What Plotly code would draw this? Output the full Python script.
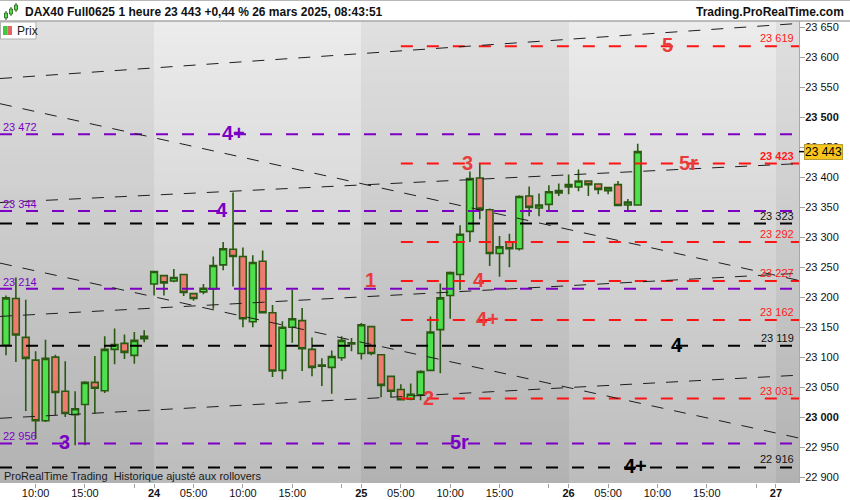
import plotly.graph_objects as go

# DAX40 Full0625, bougies 1 heure, ven 21 -> mer 26 mars 2025
opens = [23120, 23198, 23133, 23095, 22994, 23100, 23043, 23004, 23021, 23058,
         23044, 23113, 23123, 23103, 23131,
         23222, 23236, 23227, 23238, 23206, 23209, 23214, 23254, 23280, 23268,
         23159, 23260, 23174, 23078, 23150, 23161, 23113, 23085, 23083, 23099, 23122,
         23106, 23151, 23104, 23068, 23046, 23030, 23037, 23078, 23146, 23203,
         23238, 23310, 23399, 23346, 23273, 23292, 23281, 23369, 23349, 23355, 23374,
         23384, 23384, 23394, 23389, 23378, 23388, 23354, 23354]
highs = [23203, 23233, 23196, 23110, 23129, 23104, 23093, 23043, 23060, 23102,
         23135, 23148, 23138, 23142, 23145,
         23244, 23237, 23247, 23239, 23207, 23222, 23268, 23292, 23375, 23283,
         23270, 23278, 23187, 23160, 23212, 23182, 23133, 23098, 23111, 23135, 23132,
         23157, 23152, 23105, 23069, 23055, 23056, 23078, 23168, 23223, 23243,
         23320, 23410, 23423, 23348, 23302, 23306, 23370, 23385, 23373, 23387, 23390,
         23405, 23413, 23395, 23390, 23383, 23394, 23364, 23456]
lows = [23103, 23092, 23010, 22964, 22992, 23003, 23000, 22953, 22953, 23006,
        23040, 23088, 23097, 23089, 23125,
        23203, 23203, 23225, 23202, 23194, 23205, 23181, 23245, 23218, 23150,
        23150, 23173, 23067, 23063, 23124, 23077, 23068, 23052, 23039, 23094, 23110,
        23096, 23103, 23033, 23033, 23028, 23028, 23028, 23077, 23073, 23164,
        23212, 23292, 23330, 23252, 23234, 23250, 23278, 23335, 23335, 23345, 23369,
        23372, 23377, 23369, 23372, 23372, 23352, 23345, 23353]
closes = [23199, 23137, 23098, 22994, 23098, 23041, 23006, 23014, 23058, 23048,
          23113, 23121, 23108, 23128, 23135,
          23243, 23224, 23233, 23208, 23198, 23215, 23253, 23281, 23268, 23164,
          23258, 23174, 23077, 23150, 23164, 23114, 23083, 23087, 23101, 23128, 23124,
          23154, 23106, 23053, 23043, 23029, 23038, 23076, 23142, 23199, 23241,
          23305, 23398, 23347, 23273, 23284, 23281, 23368, 23350, 23354, 23376, 23378,
          23388, 23394, 23388, 23380, 23383, 23353, 23359, 23443]
last_price = 23443

tick_pos = [3, 8, 13, 15, 19, 24, 29, 34, 36, 40, 45, 50, 55, 57, 61, 66, 71, 76, 78]
tick_txt = ['10:00', '15:00', '', '<b>24</b>', '05:00', '10:00', '15:00', '', '<b>25</b>',
            '05:00', '10:00', '15:00', '', '<b>26</b>', '05:00', '10:00', '15:00', '', '<b>27</b>']
day_starts = [15, 36, 57, 78]   # first bar of each session

purple_levels = [23472, 23344, 23214, 22956]
black_levels = [23323, 23119, 22916]
red_levels = [23619, 23423, 23292, 23227, 23162, 23031]
red_from = 40

# trend lines: price at left edge / right edge
trend_left = [23565, 23523, 23358, 23257, 23168, 22998]
trend_right = [23657, 23228, 23423, 22965, 23240, 23070]

# big tags on the levels: text, level, bar, colour
tags = [('5', 23619, 67, 'red'), ('4+', 23472, 23, 'purple'), ('3', 23423, 46.8, 'red'),
        ('5r', 23423, 69.1, 'red'), ('4', 23344, 21.9, 'purple'), ('1', 23227, 36.9, 'red'),
        ('4', 23227, 47.9, 'red'), ('4+', 23162, 48.8, 'red'), ('4', 23119, 68, 'black'),
        ('2', 23031, 42.8, 'red'), ('3', 22956, 5.9, 'purple'), ('5r', 22956, 45.9, 'purple'),
        ('4+', 22916, 63.8, 'black')]

X_MIN, X_MAX = -0.61, 80.34
Y_MIN, Y_MAX = 22890, 23661
FONT = 'Arial, Liberation Sans, sans-serif'
LINE_COL = {'red': '#ff1414', 'purple': '#7c00c4', 'black': '#000000'}
TAG_COL = {'red': '#e83c3c', 'purple': '#7a00c4', 'black': '#000000'}


def fmt(v):
    return f"{v:,}".replace(",", " ")


def px(x):
    return x / 799


def py(y):
    return (483 - y) / 462


fig = go.Figure()

# session background bands: alternating greys, lighter at the top (heatmap sits under everything)
edges = [X_MIN] + day_starts + [X_MAX]
nrows = 80
y_edges = [Y_MIN + (Y_MAX - Y_MIN) * r / nrows for r in range(nrows + 1)]
z = [[(r + 0.5) / nrows + (2 if k % 2 == 1 else 0) for k in range(len(edges) - 1)]
     for r in range(nrows)]
fig.add_trace(go.Heatmap(x=edges, y=y_edges, z=z, zmin=0, zmax=3, showscale=False,
                         hoverinfo='skip',
                         colorscale=[[0, '#b2b2b2'], [1 / 3, '#e0e0e0'],
                                     [2 / 3, '#bcbcbc'], [1, '#ececec']]))

fig.add_trace(go.Candlestick(
    x=list(range(len(opens))), open=opens, high=highs, low=lows, close=closes,
    increasing=dict(fillcolor='#4fe04f', line=dict(color='#2a5a12', width=1.6)),
    decreasing=dict(fillcolor='#ef7a72', line=dict(color='#2a5a12', width=1.6)),
    whiskerwidth=0, hoverinfo='skip'))

for v in purple_levels:
    fig.add_trace(go.Scatter(x=[X_MIN, X_MAX], y=[v, v], mode='lines', hoverinfo='skip',
                             line=dict(color=LINE_COL['purple'], width=2, dash='12px,14px')))
for v in black_levels:
    fig.add_trace(go.Scatter(x=[X_MIN, X_MAX], y=[v, v], mode='lines', hoverinfo='skip',
                             line=dict(color=LINE_COL['black'], width=2, dash='12px,14px')))
for v in red_levels:
    fig.add_trace(go.Scatter(x=[red_from, X_MAX], y=[v, v], mode='lines', hoverinfo='skip',
                             line=dict(color=LINE_COL['red'], width=2, dash='12px,14px')))

for a, b in zip(trend_left, trend_right):
    fig.add_trace(go.Scatter(x=[X_MIN, X_MAX], y=[a, b], mode='lines', hoverinfo='skip',
                             line=dict(color='#1e1e1e', width=1, dash='12px,11px')))

ann = []
for v in purple_levels:
    ann.append(dict(x=px(1), xref='paper', y=v, yref='y', text=fmt(v), showarrow=False,
                    xanchor='left', yanchor='middle', yshift=7,
                    font=dict(family=FONT, size=11, color=LINE_COL['purple'])))
for v in black_levels:
    ann.append(dict(x=px(796), xref='paper', y=v, yref='y', text=fmt(v), showarrow=False,
                    xanchor='right', yanchor='middle', yshift=8,
                    font=dict(family=FONT, size=11, color='#111111')))
for v in red_levels:
    txt = '<b>' + fmt(v) + '</b>' if v == 23423 else fmt(v)
    ann.append(dict(x=px(796), xref='paper', y=v, yref='y', text=txt, showarrow=False,
                    xanchor='right', yanchor='middle', yshift=8,
                    font=dict(family=FONT, size=11, color='#ff1a1a')))
for t, v, i, c in tags:
    ann.append(dict(x=i, xref='x', y=v, yref='y', text='<b>' + t + '</b>', showarrow=False,
                    xanchor='center', yanchor='middle', yshift=1,
                    font=dict(family=FONT, size=20, color=TAG_COL[c])))

# current price box
ann.append(dict(x=1, xref='paper', xshift=5, y=last_price, yref='y', text=fmt(last_price),
                showarrow=False, xanchor='left', yanchor='middle', bgcolor='#f7c51e',
                bordercolor='#b89a30', borderwidth=1, borderpad=0,
                font=dict(family=FONT, size=12, color='#000000')))

# header + footer texts
ann.append(dict(x=px(23), y=py(12), xref='paper', yref='paper', showarrow=False,
                xanchor='left', yanchor='middle',
                text='<b>DAX40 Full0625 1 heure 23 443 +0,44 % 26 mars 2025, 08:43:51</b>',
                font=dict(family=FONT, size=12, color='#111111')))
ann.append(dict(x=px(846), y=py(12), xref='paper', yref='paper', showarrow=False,
                xanchor='right', yanchor='middle', text='<b>Trading.ProRealTime.com</b>',
                font=dict(family=FONT, size=12, color='#111111')))
ann.append(dict(x=px(2), y=py(476), xref='paper', yref='paper', showarrow=False,
                xanchor='left', yanchor='middle',
                text='ProRealTime Trading\u00a0 Historique ajusté aux rollovers',
                font=dict(family=FONT, size=11, color='#1a1a1a')))
ann.append(dict(x=px(15), y=py(31), xref='paper', yref='paper', showarrow=False,
                xanchor='left', yanchor='middle', text='Prix',
                font=dict(family=FONT, size=12, color='#1a1a1a')))

shapes = [
    dict(type='line', xref='paper', yref='paper', x0=0, x1=px(850), y0=py(21), y1=py(21),
         line=dict(color='#a8a8a8', width=1.5)),
    dict(type='line', xref='paper', yref='paper', x0=0, x1=px(850), y0=py(0.5), y1=py(0.5),
         line=dict(color='#b8b8b8', width=1)),
    # "Prix" legend box
    dict(type='rect', xref='paper', yref='paper', x0=px(0.5), x1=px(36), y0=py(39), y1=py(22),
         fillcolor='white', line=dict(color='#b0b0b0', width=1)),
    dict(type='rect', xref='paper', yref='paper', x0=px(3), x1=px(7.5), y0=py(35), y1=py(26),
         fillcolor='#44c844', line=dict(width=0)),
    dict(type='rect', xref='paper', yref='paper', x0=px(7.5), x1=px(12), y0=py(35), y1=py(26),
         fillcolor='#e06464', line=dict(width=0)),
    # last price tick on the axis
    dict(type='line', xref='paper', yref='y', x0=1, x1=px(805), y0=last_price, y1=last_price,
         line=dict(color='#000000', width=1.5)),
]
# little candle icon in the header
for cx, b0, b1, w0, w1 in [(6, 13, 18, 11, 20), (11, 9, 14, 7, 16), (16, 5, 10, 3, 12)]:
    shapes.append(dict(type='line', xref='paper', yref='paper', x0=px(cx), x1=px(cx),
                       y0=py(w1), y1=py(w0), line=dict(color='#2a5a12', width=1)))
    shapes.append(dict(type='rect', xref='paper', yref='paper', x0=px(cx - 1.5), x1=px(cx + 1.5),
                       y0=py(b1), y1=py(b0), fillcolor='#4fe04f',
                       line=dict(color='#2a5a12', width=0.8)))

yvals = list(range(22900, 23651, 50))
ytext = ['<b>' + fmt(v) + '</b>' if v in (23000, 23500) else fmt(v) for v in yvals]

fig.update_layout(
    width=850, height=500,
    margin=dict(l=0, r=51, t=21, b=17),
    paper_bgcolor='white', plot_bgcolor='#d0d0d0',
    showlegend=False, boxgap=0.32, boxgroupgap=0,
    font=dict(family=FONT, size=11, color='#111111'),
    annotations=ann, shapes=shapes,
    xaxis=dict(range=[X_MIN, X_MAX], tickvals=tick_pos, ticktext=tick_txt,
               showgrid=False, zeroline=False, ticks='outside', ticklen=4,
               tickcolor='#a0a0a0', rangeslider=dict(visible=False),
               ticklabelstandoff=-4,
               tickfont=dict(family=FONT, size=11, color='#111111')),
    yaxis=dict(range=[Y_MIN, Y_MAX], side='right', tickvals=yvals, ticktext=ytext,
               showgrid=False, zeroline=False, ticks='outside', ticklen=5,
               tickcolor='#a0a0a0', showline=True, linecolor='#a8a8a8', linewidth=1,
               ticklabelstandoff=-2,
               tickfont=dict(family=FONT, size=11, color='#111111')),
)

# the page body has an 8px default margin; drop it so the figure sits at the window's corner
fig.write_html("out.html", config={'displayModeBar': False},
               post_script="document.body.style.margin='0px';")
